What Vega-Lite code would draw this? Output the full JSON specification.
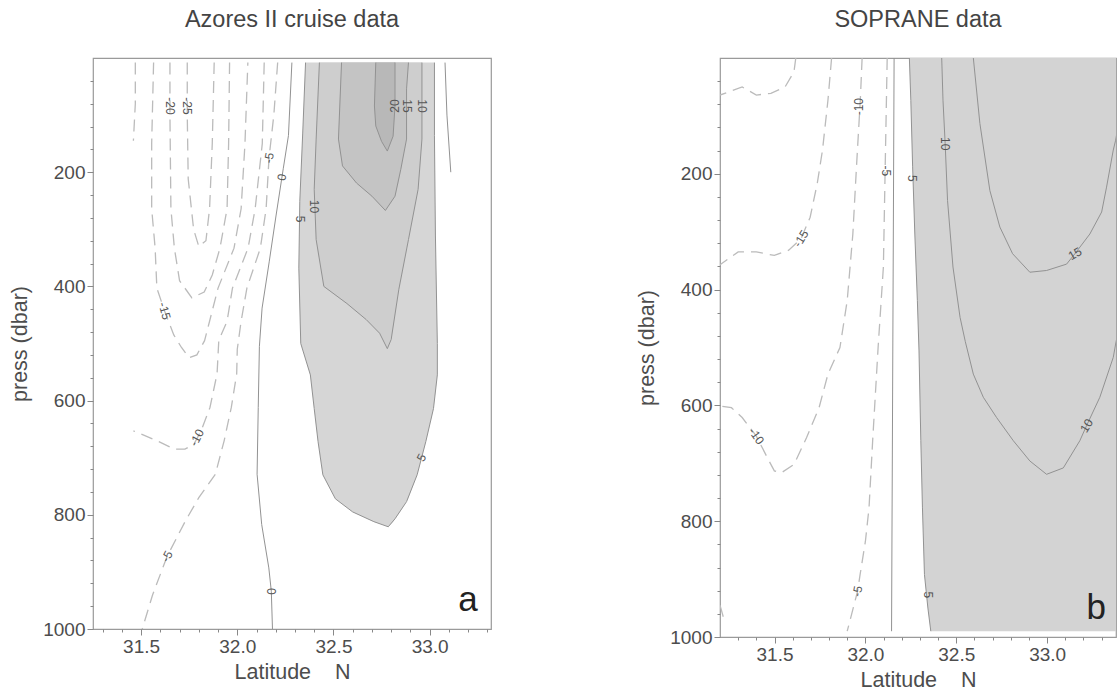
{
  "$schema": "https://vega.github.io/schema/vega-lite/v6.json",
  "background": "white",
  "padding": {"left": 9, "top": 6, "right": 0, "bottom": 0},
  "spacing": 144,
  "config": {
    "font": "Liberation Sans",
    "view": {"stroke": "#9a9a9a", "strokeWidth": 1.2},
    "axis": {"grid": false, "domain": false, "tickColor": "#888888", "labelColor": "#4d4d4d", "labelFontSize": 19, "titleFontSize": 21.5, "titleFontWeight": "normal", "titleColor": "#4d4d4d", "labelPadding": 2, "labelOverlap": false, "labelFlush": false},
    "axisY": {"titlePadding": 11},
    "axisX": {"titlePadding": 5},
    "title": {"fontSize": 23.5, "fontWeight": "normal", "color": "#444444", "offset": 27}
  },
  "datasets": {
    "lines": [
      {"p":"A","lev":0,"seg":"A0","i":0,"lat":32.284,"press":8},
      {"p":"A","lev":0,"seg":"A0","i":1,"lat":32.266,"press":136},
      {"p":"A","lev":0,"seg":"A0","i":2,"lat":32.239,"press":194},
      {"p":"A","lev":0,"seg":"A0","i":3,"lat":32.202,"press":275},
      {"p":"A","lev":0,"seg":"A0","i":4,"lat":32.166,"press":357},
      {"p":"A","lev":0,"seg":"A0","i":5,"lat":32.129,"press":438},
      {"p":"A","lev":0,"seg":"A0","i":6,"lat":32.115,"press":505},
      {"p":"A","lev":0,"seg":"A0","i":7,"lat":32.109,"press":612},
      {"p":"A","lev":0,"seg":"A0","i":8,"lat":32.103,"press":729},
      {"p":"A","lev":0,"seg":"A0","i":9,"lat":32.127,"press":817},
      {"p":"A","lev":0,"seg":"A0","i":10,"lat":32.164,"press":893},
      {"p":"A","lev":0,"seg":"A0","i":11,"lat":32.177,"press":934},
      {"p":"A","lev":0,"seg":"A0","i":12,"lat":32.183,"press":1000},
      {"p":"A","lev":0,"seg":"A0r","i":0,"lat":33.08,"press":8},
      {"p":"A","lev":0,"seg":"A0r","i":1,"lat":33.09,"press":100},
      {"p":"A","lev":0,"seg":"A0r","i":2,"lat":33.11,"press":200},
      {"p":"A","lev":5,"seg":"A5","i":0,"lat":32.355,"press":8},
      {"p":"A","lev":5,"seg":"A5","i":1,"lat":32.34,"press":133},
      {"p":"A","lev":5,"seg":"A5","i":2,"lat":32.325,"press":251},
      {"p":"A","lev":5,"seg":"A5","i":3,"lat":32.32,"press":368},
      {"p":"A","lev":5,"seg":"A5","i":4,"lat":32.33,"press":500},
      {"p":"A","lev":5,"seg":"A5","i":5,"lat":32.38,"press":555},
      {"p":"A","lev":5,"seg":"A5","i":6,"lat":32.40,"press":614},
      {"p":"A","lev":5,"seg":"A5","i":7,"lat":32.42,"press":672},
      {"p":"A","lev":5,"seg":"A5","i":8,"lat":32.445,"press":730},
      {"p":"A","lev":5,"seg":"A5","i":9,"lat":32.51,"press":772},
      {"p":"A","lev":5,"seg":"A5","i":10,"lat":32.60,"press":795},
      {"p":"A","lev":5,"seg":"A5","i":11,"lat":32.71,"press":812},
      {"p":"A","lev":5,"seg":"A5","i":12,"lat":32.785,"press":821},
      {"p":"A","lev":5,"seg":"A5","i":13,"lat":32.82,"press":807},
      {"p":"A","lev":5,"seg":"A5","i":14,"lat":32.88,"press":777},
      {"p":"A","lev":5,"seg":"A5","i":15,"lat":32.935,"press":730},
      {"p":"A","lev":5,"seg":"A5","i":16,"lat":32.98,"press":672},
      {"p":"A","lev":5,"seg":"A5","i":17,"lat":33.02,"press":614},
      {"p":"A","lev":5,"seg":"A5","i":18,"lat":33.04,"press":555},
      {"p":"A","lev":5,"seg":"A5","i":19,"lat":33.04,"press":500},
      {"p":"A","lev":5,"seg":"A5","i":20,"lat":33.03,"press":310},
      {"p":"A","lev":5,"seg":"A5","i":21,"lat":33.025,"press":136},
      {"p":"A","lev":5,"seg":"A5","i":22,"lat":33.025,"press":8},
      {"p":"A","lev":10,"seg":"A10","i":0,"lat":32.427,"press":8},
      {"p":"A","lev":10,"seg":"A10","i":1,"lat":32.41,"press":142},
      {"p":"A","lev":10,"seg":"A10","i":2,"lat":32.40,"press":230},
      {"p":"A","lev":10,"seg":"A10","i":3,"lat":32.41,"press":318},
      {"p":"A","lev":10,"seg":"A10","i":4,"lat":32.45,"press":400},
      {"p":"A","lev":10,"seg":"A10","i":5,"lat":32.57,"press":430},
      {"p":"A","lev":10,"seg":"A10","i":6,"lat":32.67,"press":458},
      {"p":"A","lev":10,"seg":"A10","i":7,"lat":32.74,"press":482},
      {"p":"A","lev":10,"seg":"A10","i":8,"lat":32.78,"press":509},
      {"p":"A","lev":10,"seg":"A10","i":9,"lat":32.80,"press":493},
      {"p":"A","lev":10,"seg":"A10","i":10,"lat":32.84,"press":405},
      {"p":"A","lev":10,"seg":"A10","i":11,"lat":32.89,"press":318},
      {"p":"A","lev":10,"seg":"A10","i":12,"lat":32.94,"press":230},
      {"p":"A","lev":10,"seg":"A10","i":13,"lat":32.96,"press":142},
      {"p":"A","lev":10,"seg":"A10","i":14,"lat":32.96,"press":8},
      {"p":"A","lev":15,"seg":"A15","i":0,"lat":32.542,"press":8},
      {"p":"A","lev":15,"seg":"A15","i":1,"lat":32.526,"press":142},
      {"p":"A","lev":15,"seg":"A15","i":2,"lat":32.547,"press":189},
      {"p":"A","lev":15,"seg":"A15","i":3,"lat":32.62,"press":219},
      {"p":"A","lev":15,"seg":"A15","i":4,"lat":32.70,"press":242},
      {"p":"A","lev":15,"seg":"A15","i":5,"lat":32.77,"press":267},
      {"p":"A","lev":15,"seg":"A15","i":6,"lat":32.82,"press":242},
      {"p":"A","lev":15,"seg":"A15","i":7,"lat":32.85,"press":195},
      {"p":"A","lev":15,"seg":"A15","i":8,"lat":32.88,"press":142},
      {"p":"A","lev":15,"seg":"A15","i":9,"lat":32.88,"press":54},
      {"p":"A","lev":15,"seg":"A15","i":10,"lat":32.89,"press":8},
      {"p":"A","lev":20,"seg":"A20","i":0,"lat":32.72,"press":8},
      {"p":"A","lev":20,"seg":"A20","i":1,"lat":32.713,"press":84},
      {"p":"A","lev":20,"seg":"A20","i":2,"lat":32.72,"press":119},
      {"p":"A","lev":20,"seg":"A20","i":3,"lat":32.75,"press":146},
      {"p":"A","lev":20,"seg":"A20","i":4,"lat":32.78,"press":163},
      {"p":"A","lev":20,"seg":"A20","i":5,"lat":32.81,"press":137},
      {"p":"A","lev":20,"seg":"A20","i":6,"lat":32.82,"press":84},
      {"p":"A","lev":20,"seg":"A20","i":7,"lat":32.82,"press":8},
      {"p":"A","lev":-5,"seg":"Am5","i":0,"lat":32.21,"press":8},
      {"p":"A","lev":-5,"seg":"Am5","i":1,"lat":32.19,"press":100},
      {"p":"A","lev":-5,"seg":"Am5","i":2,"lat":32.165,"press":175},
      {"p":"A","lev":-5,"seg":"Am5","i":3,"lat":32.15,"press":264},
      {"p":"A","lev":-5,"seg":"Am5","i":4,"lat":32.12,"press":333},
      {"p":"A","lev":-5,"seg":"Am5","i":5,"lat":32.05,"press":403},
      {"p":"A","lev":-5,"seg":"Am5","i":6,"lat":32.02,"press":461},
      {"p":"A","lev":-5,"seg":"Am5","i":7,"lat":32.0,"press":510},
      {"p":"A","lev":-5,"seg":"Am5","i":8,"lat":31.997,"press":553},
      {"p":"A","lev":-5,"seg":"Am5","i":9,"lat":31.969,"press":612},
      {"p":"A","lev":-5,"seg":"Am5","i":10,"lat":31.932,"press":670},
      {"p":"A","lev":-5,"seg":"Am5","i":11,"lat":31.886,"press":729},
      {"p":"A","lev":-5,"seg":"Am5","i":12,"lat":31.80,"press":770},
      {"p":"A","lev":-5,"seg":"Am5","i":13,"lat":31.73,"press":811},
      {"p":"A","lev":-5,"seg":"Am5","i":14,"lat":31.635,"press":873},
      {"p":"A","lev":-5,"seg":"Am5","i":15,"lat":31.56,"press":940},
      {"p":"A","lev":-5,"seg":"Am5","i":16,"lat":31.506,"press":1000},
      {"p":"A","lev":-10,"seg":"Am10","i":0,"lat":32.14,"press":8},
      {"p":"A","lev":-10,"seg":"Am10","i":1,"lat":32.13,"press":150},
      {"p":"A","lev":-10,"seg":"Am10","i":2,"lat":32.093,"press":264},
      {"p":"A","lev":-10,"seg":"Am10","i":3,"lat":32.056,"press":333},
      {"p":"A","lev":-10,"seg":"Am10","i":4,"lat":31.975,"press":403},
      {"p":"A","lev":-10,"seg":"Am10","i":5,"lat":31.947,"press":461},
      {"p":"A","lev":-10,"seg":"Am10","i":6,"lat":31.904,"press":494},
      {"p":"A","lev":-10,"seg":"Am10","i":7,"lat":31.895,"press":553},
      {"p":"A","lev":-10,"seg":"Am10","i":8,"lat":31.858,"press":612},
      {"p":"A","lev":-10,"seg":"Am10","i":9,"lat":31.812,"press":653},
      {"p":"A","lev":-10,"seg":"Am10","i":10,"lat":31.775,"press":676},
      {"p":"A","lev":-10,"seg":"Am10","i":11,"lat":31.728,"press":685},
      {"p":"A","lev":-10,"seg":"Am10","i":12,"lat":31.673,"press":685},
      {"p":"A","lev":-10,"seg":"Am10","i":13,"lat":31.58,"press":670},
      {"p":"A","lev":-10,"seg":"Am10","i":14,"lat":31.46,"press":653},
      {"p":"A","lev":-10,"seg":"Am10b","i":0,"lat":31.47,"press":8},
      {"p":"A","lev":-10,"seg":"Am10b","i":1,"lat":31.47,"press":80},
      {"p":"A","lev":-10,"seg":"Am10b","i":2,"lat":31.46,"press":145},
      {"p":"A","lev":-15,"seg":"Am15","i":0,"lat":31.565,"press":8},
      {"p":"A","lev":-15,"seg":"Am15","i":1,"lat":31.555,"press":150},
      {"p":"A","lev":-15,"seg":"Am15","i":2,"lat":31.555,"press":264},
      {"p":"A","lev":-15,"seg":"Am15","i":3,"lat":31.573,"press":333},
      {"p":"A","lev":-15,"seg":"Am15","i":4,"lat":31.582,"press":403},
      {"p":"A","lev":-15,"seg":"Am15","i":5,"lat":31.622,"press":443},
      {"p":"A","lev":-15,"seg":"Am15","i":6,"lat":31.67,"press":485},
      {"p":"A","lev":-15,"seg":"Am15","i":7,"lat":31.71,"press":507},
      {"p":"A","lev":-15,"seg":"Am15","i":8,"lat":31.75,"press":525},
      {"p":"A","lev":-15,"seg":"Am15","i":9,"lat":31.79,"press":520},
      {"p":"A","lev":-15,"seg":"Am15","i":10,"lat":31.83,"press":495},
      {"p":"A","lev":-15,"seg":"Am15","i":11,"lat":31.856,"press":461},
      {"p":"A","lev":-15,"seg":"Am15","i":12,"lat":31.90,"press":403},
      {"p":"A","lev":-15,"seg":"Am15","i":13,"lat":31.983,"press":333},
      {"p":"A","lev":-15,"seg":"Am15","i":14,"lat":32.02,"press":264},
      {"p":"A","lev":-15,"seg":"Am15","i":15,"lat":32.04,"press":150},
      {"p":"A","lev":-15,"seg":"Am15","i":16,"lat":32.055,"press":8},
      {"p":"A","lev":-20,"seg":"Am20","i":0,"lat":31.65,"press":8},
      {"p":"A","lev":-20,"seg":"Am20","i":1,"lat":31.65,"press":100},
      {"p":"A","lev":-20,"seg":"Am20","i":2,"lat":31.655,"press":264},
      {"p":"A","lev":-20,"seg":"Am20","i":3,"lat":31.673,"press":333},
      {"p":"A","lev":-20,"seg":"Am20","i":4,"lat":31.70,"press":390},
      {"p":"A","lev":-20,"seg":"Am20","i":5,"lat":31.764,"press":420},
      {"p":"A","lev":-20,"seg":"Am20","i":6,"lat":31.828,"press":410},
      {"p":"A","lev":-20,"seg":"Am20","i":7,"lat":31.87,"press":380},
      {"p":"A","lev":-20,"seg":"Am20","i":8,"lat":31.91,"press":333},
      {"p":"A","lev":-20,"seg":"Am20","i":9,"lat":31.947,"press":264},
      {"p":"A","lev":-20,"seg":"Am20","i":10,"lat":31.955,"press":150},
      {"p":"A","lev":-20,"seg":"Am20","i":11,"lat":31.96,"press":8},
      {"p":"A","lev":-25,"seg":"Am25","i":0,"lat":31.74,"press":8},
      {"p":"A","lev":-25,"seg":"Am25","i":1,"lat":31.74,"press":100},
      {"p":"A","lev":-25,"seg":"Am25","i":2,"lat":31.745,"press":212},
      {"p":"A","lev":-25,"seg":"Am25","i":3,"lat":31.773,"press":300},
      {"p":"A","lev":-25,"seg":"Am25","i":4,"lat":31.80,"press":330},
      {"p":"A","lev":-25,"seg":"Am25","i":5,"lat":31.837,"press":320},
      {"p":"A","lev":-25,"seg":"Am25","i":6,"lat":31.856,"press":264},
      {"p":"A","lev":-25,"seg":"Am25","i":7,"lat":31.87,"press":150},
      {"p":"A","lev":-25,"seg":"Am25","i":8,"lat":31.88,"press":8},
      {"p":"S","lev":0,"seg":"S0","i":0,"lat":32.158,"press":0},
      {"p":"S","lev":0,"seg":"S0","i":1,"lat":32.144,"press":990},
      {"p":"S","lev":5,"seg":"S5","i":0,"lat":32.242,"press":0},
      {"p":"S","lev":5,"seg":"S5","i":1,"lat":32.25,"press":73},
      {"p":"S","lev":5,"seg":"S5","i":2,"lat":32.26,"press":188},
      {"p":"S","lev":5,"seg":"S5","i":3,"lat":32.272,"press":304},
      {"p":"S","lev":5,"seg":"S5","i":4,"lat":32.286,"press":419},
      {"p":"S","lev":5,"seg":"S5","i":5,"lat":32.295,"press":506},
      {"p":"S","lev":5,"seg":"S5","i":6,"lat":32.305,"press":661},
      {"p":"S","lev":5,"seg":"S5","i":7,"lat":32.314,"press":777},
      {"p":"S","lev":5,"seg":"S5","i":8,"lat":32.325,"press":892},
      {"p":"S","lev":5,"seg":"S5","i":9,"lat":32.344,"press":950},
      {"p":"S","lev":5,"seg":"S5","i":10,"lat":32.36,"press":990},
      {"p":"S","lev":10,"seg":"S10","i":0,"lat":32.42,"press":0},
      {"p":"S","lev":10,"seg":"S10","i":1,"lat":32.427,"press":73},
      {"p":"S","lev":10,"seg":"S10","i":2,"lat":32.439,"press":148},
      {"p":"S","lev":10,"seg":"S10","i":3,"lat":32.452,"press":246},
      {"p":"S","lev":10,"seg":"S10","i":4,"lat":32.482,"press":361},
      {"p":"S","lev":10,"seg":"S10","i":5,"lat":32.521,"press":448},
      {"p":"S","lev":10,"seg":"S10","i":6,"lat":32.55,"press":490},
      {"p":"S","lev":10,"seg":"S10","i":7,"lat":32.594,"press":546},
      {"p":"S","lev":10,"seg":"S10","i":8,"lat":32.649,"press":586},
      {"p":"S","lev":10,"seg":"S10","i":9,"lat":32.722,"press":621},
      {"p":"S","lev":10,"seg":"S10","i":10,"lat":32.814,"press":661},
      {"p":"S","lev":10,"seg":"S10","i":11,"lat":32.905,"press":696},
      {"p":"S","lev":10,"seg":"S10","i":12,"lat":32.997,"press":719},
      {"p":"S","lev":10,"seg":"S10","i":13,"lat":33.089,"press":708},
      {"p":"S","lev":10,"seg":"S10","i":14,"lat":33.18,"press":661},
      {"p":"S","lev":10,"seg":"S10","i":15,"lat":33.217,"press":635},
      {"p":"S","lev":10,"seg":"S10","i":16,"lat":33.29,"press":586},
      {"p":"S","lev":10,"seg":"S10","i":17,"lat":33.364,"press":517},
      {"p":"S","lev":10,"seg":"S10","i":18,"lat":33.377,"press":494},
      {"p":"S","lev":10,"seg":"S10","i":19,"lat":33.41,"press":440},
      {"p":"S","lev":15,"seg":"S15","i":0,"lat":32.594,"press":0},
      {"p":"S","lev":15,"seg":"S15","i":1,"lat":32.63,"press":113},
      {"p":"S","lev":15,"seg":"S15","i":2,"lat":32.685,"press":229},
      {"p":"S","lev":15,"seg":"S15","i":3,"lat":32.74,"press":292},
      {"p":"S","lev":15,"seg":"S15","i":4,"lat":32.81,"press":338},
      {"p":"S","lev":15,"seg":"S15","i":5,"lat":32.905,"press":370},
      {"p":"S","lev":15,"seg":"S15","i":6,"lat":32.997,"press":367},
      {"p":"S","lev":15,"seg":"S15","i":7,"lat":33.107,"press":356},
      {"p":"S","lev":15,"seg":"S15","i":8,"lat":33.153,"press":338},
      {"p":"S","lev":15,"seg":"S15","i":9,"lat":33.235,"press":304},
      {"p":"S","lev":15,"seg":"S15","i":10,"lat":33.30,"press":266},
      {"p":"S","lev":15,"seg":"S15","i":11,"lat":33.327,"press":223},
      {"p":"S","lev":15,"seg":"S15","i":12,"lat":33.364,"press":159},
      {"p":"S","lev":15,"seg":"S15","i":13,"lat":33.377,"press":142},
      {"p":"S","lev":15,"seg":"S15","i":14,"lat":33.40,"press":100},
      {"p":"S","lev":-5,"seg":"Sm5","i":0,"lat":32.12,"press":0},
      {"p":"S","lev":-5,"seg":"Sm5","i":1,"lat":32.109,"press":188},
      {"p":"S","lev":-5,"seg":"Sm5","i":2,"lat":32.099,"press":361},
      {"p":"S","lev":-5,"seg":"Sm5","i":3,"lat":32.07,"press":500},
      {"p":"S","lev":-5,"seg":"Sm5","i":4,"lat":32.04,"press":661},
      {"p":"S","lev":-5,"seg":"Sm5","i":5,"lat":32.02,"press":777},
      {"p":"S","lev":-5,"seg":"Sm5","i":6,"lat":32.0,"press":835},
      {"p":"S","lev":-5,"seg":"Sm5","i":7,"lat":31.971,"press":892},
      {"p":"S","lev":-5,"seg":"Sm5","i":8,"lat":31.957,"press":921},
      {"p":"S","lev":-5,"seg":"Sm5","i":9,"lat":31.90,"press":990},
      {"p":"S","lev":-10,"seg":"Sm10","i":0,"lat":31.982,"press":0},
      {"p":"S","lev":-10,"seg":"Sm10","i":1,"lat":31.972,"press":73},
      {"p":"S","lev":-10,"seg":"Sm10","i":2,"lat":31.951,"press":188},
      {"p":"S","lev":-10,"seg":"Sm10","i":3,"lat":31.931,"press":304},
      {"p":"S","lev":-10,"seg":"Sm10","i":4,"lat":31.90,"press":419},
      {"p":"S","lev":-10,"seg":"Sm10","i":5,"lat":31.86,"press":500},
      {"p":"S","lev":-10,"seg":"Sm10","i":6,"lat":31.794,"press":546},
      {"p":"S","lev":-10,"seg":"Sm10","i":7,"lat":31.745,"press":604},
      {"p":"S","lev":-10,"seg":"Sm10","i":8,"lat":31.676,"press":656},
      {"p":"S","lev":-10,"seg":"Sm10","i":9,"lat":31.607,"press":702},
      {"p":"S","lev":-10,"seg":"Sm10","i":10,"lat":31.539,"press":716},
      {"p":"S","lev":-10,"seg":"Sm10","i":11,"lat":31.499,"press":713},
      {"p":"S","lev":-10,"seg":"Sm10","i":12,"lat":31.46,"press":690},
      {"p":"S","lev":-10,"seg":"Sm10","i":13,"lat":31.40,"press":653},
      {"p":"S","lev":-10,"seg":"Sm10","i":14,"lat":31.322,"press":621},
      {"p":"S","lev":-10,"seg":"Sm10","i":15,"lat":31.263,"press":604},
      {"p":"S","lev":-10,"seg":"Sm10","i":16,"lat":31.2,"press":601},
      {"p":"S","lev":-15,"seg":"Sm15","i":0,"lat":31.814,"press":0},
      {"p":"S","lev":-15,"seg":"Sm15","i":1,"lat":31.794,"press":73},
      {"p":"S","lev":-15,"seg":"Sm15","i":2,"lat":31.764,"press":159},
      {"p":"S","lev":-15,"seg":"Sm15","i":3,"lat":31.735,"press":217},
      {"p":"S","lev":-15,"seg":"Sm15","i":4,"lat":31.696,"press":275},
      {"p":"S","lev":-15,"seg":"Sm15","i":5,"lat":31.646,"press":312},
      {"p":"S","lev":-15,"seg":"Sm15","i":6,"lat":31.578,"press":332},
      {"p":"S","lev":-15,"seg":"Sm15","i":7,"lat":31.499,"press":341},
      {"p":"S","lev":-15,"seg":"Sm15","i":8,"lat":31.40,"press":335},
      {"p":"S","lev":-15,"seg":"Sm15","i":9,"lat":31.30,"press":335},
      {"p":"S","lev":-15,"seg":"Sm15","i":10,"lat":31.2,"press":357},
      {"p":"S","lev":-15,"seg":"Sm15b","i":0,"lat":31.2,"press":945},
      {"p":"S","lev":-15,"seg":"Sm15b","i":1,"lat":31.225,"press":973},
      {"p":"S","lev":-20,"seg":"Sm20","i":0,"lat":31.617,"press":0},
      {"p":"S","lev":-20,"seg":"Sm20","i":1,"lat":31.607,"press":24},
      {"p":"S","lev":-20,"seg":"Sm20","i":2,"lat":31.558,"press":50},
      {"p":"S","lev":-20,"seg":"Sm20","i":3,"lat":31.48,"press":61},
      {"p":"S","lev":-20,"seg":"Sm20","i":4,"lat":31.40,"press":64},
      {"p":"S","lev":-20,"seg":"Sm20","i":5,"lat":31.322,"press":50},
      {"p":"S","lev":-20,"seg":"Sm20","i":6,"lat":31.2,"press":64}
    ],
    "fills": [
      {"p":"A","lev":5,"press":8,"lat":32.355,"lat2":33.025},
      {"p":"A","lev":5,"press":133,"lat":32.34,"lat2":33.025},
      {"p":"A","lev":5,"press":251,"lat":32.325,"lat2":33.028},
      {"p":"A","lev":5,"press":368,"lat":32.32,"lat2":33.033},
      {"p":"A","lev":5,"press":500,"lat":32.33,"lat2":33.04},
      {"p":"A","lev":5,"press":555,"lat":32.38,"lat2":33.04},
      {"p":"A","lev":5,"press":614,"lat":32.40,"lat2":33.02},
      {"p":"A","lev":5,"press":672,"lat":32.42,"lat2":32.98},
      {"p":"A","lev":5,"press":730,"lat":32.445,"lat2":32.935},
      {"p":"A","lev":5,"press":772,"lat":32.51,"lat2":32.888},
      {"p":"A","lev":5,"press":795,"lat":32.60,"lat2":32.845},
      {"p":"A","lev":5,"press":812,"lat":32.71,"lat2":32.81},
      {"p":"A","lev":5,"press":821,"lat":32.785,"lat2":32.785},
      {"p":"A","lev":10,"press":8,"lat":32.427,"lat2":32.96},
      {"p":"A","lev":10,"press":142,"lat":32.41,"lat2":32.96},
      {"p":"A","lev":10,"press":230,"lat":32.40,"lat2":32.94},
      {"p":"A","lev":10,"press":318,"lat":32.41,"lat2":32.89},
      {"p":"A","lev":10,"press":400,"lat":32.45,"lat2":32.843},
      {"p":"A","lev":10,"press":430,"lat":32.57,"lat2":32.829},
      {"p":"A","lev":10,"press":458,"lat":32.67,"lat2":32.816},
      {"p":"A","lev":10,"press":482,"lat":32.74,"lat2":32.805},
      {"p":"A","lev":10,"press":509,"lat":32.78,"lat2":32.78},
      {"p":"A","lev":15,"press":8,"lat":32.542,"lat2":32.89},
      {"p":"A","lev":15,"press":54,"lat":32.535,"lat2":32.88},
      {"p":"A","lev":15,"press":142,"lat":32.526,"lat2":32.88},
      {"p":"A","lev":15,"press":189,"lat":32.547,"lat2":32.854},
      {"p":"A","lev":15,"press":219,"lat":32.62,"lat2":32.838},
      {"p":"A","lev":15,"press":242,"lat":32.70,"lat2":32.82},
      {"p":"A","lev":15,"press":267,"lat":32.77,"lat2":32.77},
      {"p":"A","lev":20,"press":8,"lat":32.72,"lat2":32.82},
      {"p":"A","lev":20,"press":84,"lat":32.713,"lat2":32.82},
      {"p":"A","lev":20,"press":119,"lat":32.72,"lat2":32.814},
      {"p":"A","lev":20,"press":137,"lat":32.74,"lat2":32.81},
      {"p":"A","lev":20,"press":146,"lat":32.75,"lat2":32.80},
      {"p":"A","lev":20,"press":163,"lat":32.78,"lat2":32.78},
      {"p":"S","lev":5,"press":0,"lat":32.242,"lat2":33.6},
      {"p":"S","lev":5,"press":73,"lat":32.25,"lat2":33.6},
      {"p":"S","lev":5,"press":188,"lat":32.26,"lat2":33.6},
      {"p":"S","lev":5,"press":304,"lat":32.272,"lat2":33.6},
      {"p":"S","lev":5,"press":419,"lat":32.286,"lat2":33.6},
      {"p":"S","lev":5,"press":506,"lat":32.295,"lat2":33.6},
      {"p":"S","lev":5,"press":661,"lat":32.305,"lat2":33.6},
      {"p":"S","lev":5,"press":777,"lat":32.314,"lat2":33.6},
      {"p":"S","lev":5,"press":892,"lat":32.325,"lat2":33.6},
      {"p":"S","lev":5,"press":950,"lat":32.344,"lat2":33.6},
      {"p":"S","lev":5,"press":990,"lat":32.36,"lat2":33.6}
    ],
    "labels": [
      {"id":"a1","p":"A","t":"-25","lat":31.74,"press":84},
      {"id":"a2","p":"A","t":"-20","lat":31.65,"press":84},
      {"id":"a3","p":"A","t":"-15","lat":31.622,"press":443},
      {"id":"a4","p":"A","t":"-5","lat":32.165,"press":175},
      {"id":"a5","p":"A","t":"0","lat":32.232,"press":209},
      {"id":"a6","p":"A","t":"5","lat":32.325,"press":282},
      {"id":"a7","p":"A","t":"10","lat":32.40,"press":260},
      {"id":"a8","p":"A","t":"20","lat":32.82,"press":84},
      {"id":"a9","p":"A","t":"15","lat":32.88,"press":84},
      {"id":"a10","p":"A","t":"10","lat":32.96,"press":84},
      {"id":"a11","p":"A","t":"-10","lat":31.79,"press":665},
      {"id":"a12","p":"A","t":"-5","lat":31.635,"press":873},
      {"id":"a13","p":"A","t":"0","lat":32.177,"press":934},
      {"id":"a14","p":"A","t":"5","lat":32.958,"press":700},
      {"id":"s1","p":"S","t":"-10","lat":31.966,"press":84},
      {"id":"s2","p":"S","t":"-5","lat":32.112,"press":195},
      {"id":"s3","p":"S","t":"5","lat":32.256,"press":208},
      {"id":"s4","p":"S","t":"10","lat":32.439,"press":148},
      {"id":"s5","p":"S","t":"-15","lat":31.646,"press":312},
      {"id":"s6","p":"S","t":"15","lat":33.153,"press":338},
      {"id":"s7","p":"S","t":"-10","lat":31.40,"press":653},
      {"id":"s8","p":"S","t":"10","lat":33.217,"press":635},
      {"id":"s9","p":"S","t":"-5","lat":31.957,"press":921},
      {"id":"s10","p":"S","t":"5","lat":32.344,"press":927}
    ],
    "letters": [
      {"p":"A","t":"a","lat":33.2,"press":950},
      {"p":"S","t":"b","lat":33.27,"press":950}
    ]
  },
  "hconcat": [
    {
      "title": {"text": "Azores II cruise data"},
      "width": 398,
      "height": 571,
      "encoding": {
        "x": {"field": "lat", "type": "quantitative", "scale": {"domain": [31.25, 33.319], "nice": false, "zero": false},
          "axis": {"title": "Latitude\u00a0\u00a0\u00a0\u00a0N", "values": [31.3,31.4,31.5,31.6,31.7,31.8,31.9,32.0,32.1,32.2,32.3,32.4,32.5,32.6,32.7,32.8,32.9,33.0,33.1,33.2,33.3],
            "labelExpr": "abs(datum.value*2-round(datum.value*2))<0.001 ? format(datum.value,'.1f') : ''",
            "tickSize": {"condition": {"test": "abs(datum.value*2-round(datum.value*2))<0.001", "value": 6}, "value": 3}}},
        "y": {"field": "press", "type": "quantitative", "scale": {"domain": [0, 1000], "reverse": true, "nice": false, "zero": false},
          "axis": {"title": "press (dbar)", "values": [40,80,120,160,200,240,280,320,360,400,440,480,520,560,600,640,680,720,760,800,840,880,920,960,1000],
            "labelExpr": "datum.value % 200 === 0 ? datum.value : ''",
            "tickSize": {"condition": {"test": "datum.value % 200 === 0", "value": 6}, "value": 3}}}
      },
      "layer": [
        {"data": {"name": "fills"}, "transform": [{"filter": "datum.p === 'A' && datum.lev === 5"}],
         "mark": {"type": "area", "orient": "horizontal", "color": "#d6d6d6", "clip": true},
         "encoding": {"x2": {"field": "lat2"}}},
        {"data": {"name": "fills"}, "transform": [{"filter": "datum.p === 'A' && datum.lev === 10"}],
         "mark": {"type": "area", "orient": "horizontal", "color": "#cecece", "clip": true},
         "encoding": {"x2": {"field": "lat2"}}},
        {"data": {"name": "fills"}, "transform": [{"filter": "datum.p === 'A' && datum.lev === 15"}],
         "mark": {"type": "area", "orient": "horizontal", "color": "#c4c4c4", "clip": true},
         "encoding": {"x2": {"field": "lat2"}}},
        {"data": {"name": "fills"}, "transform": [{"filter": "datum.p === 'A' && datum.lev === 20"}],
         "mark": {"type": "area", "orient": "horizontal", "color": "#b8b8b8", "clip": true},
         "encoding": {"x2": {"field": "lat2"}}},
        {"data": {"name": "lines"}, "transform": [{"filter": "datum.p === 'A' && datum.lev < 0"}],
         "mark": {"type": "line", "color": "#bbbbbb", "strokeWidth": 1.3, "strokeDash": [12, 7], "clip": true},
         "encoding": {"detail": {"field": "seg"}, "order": {"field": "i", "type": "quantitative"}}},
        {"data": {"name": "lines"}, "transform": [{"filter": "datum.p === 'A' && datum.lev >= 0"}],
         "mark": {"type": "line", "color": "#929292", "strokeWidth": 1, "clip": true},
         "encoding": {"detail": {"field": "seg"}, "order": {"field": "i", "type": "quantitative"}}},
        {"data": {"name": "labels"}, "transform": [{"filter": "datum.p === 'A' && indexof(['a1','a2','a6','a7','a9','a10','a13'], datum.id) >= 0"}],
         "mark": {"type": "text", "fontSize": 12, "color": "#555555", "angle": 90},
         "encoding": {"text": {"field": "t"}}},
        {"data": {"name": "labels"}, "transform": [{"filter": "datum.p === 'A' && indexof(['a8'], datum.id) >= 0"}],
         "mark": {"type": "text", "fontSize": 12, "color": "#555555", "angle": 270},
         "encoding": {"text": {"field": "t"}}},
        {"data": {"name": "labels"}, "transform": [{"filter": "datum.p === 'A' && indexof(['a3'], datum.id) >= 0"}],
         "mark": {"type": "text", "fontSize": 12, "color": "#555555", "angle": 75},
         "encoding": {"text": {"field": "t"}}},
        {"data": {"name": "labels"}, "transform": [{"filter": "datum.p === 'A' && indexof(['a4','a5'], datum.id) >= 0"}],
         "mark": {"type": "text", "fontSize": 12, "color": "#555555", "angle": 280},
         "encoding": {"text": {"field": "t"}}},
        {"data": {"name": "labels"}, "transform": [{"filter": "datum.p === 'A' && indexof(['a11','a12','a14'], datum.id) >= 0"}],
         "mark": {"type": "text", "fontSize": 12, "color": "#555555", "angle": 298},
         "encoding": {"text": {"field": "t"}}},
        {"data": {"name": "letters"}, "transform": [{"filter": "datum.p === 'A'"}],
         "mark": {"type": "text", "fontSize": 35, "color": "#222222"},
         "encoding": {"text": {"field": "t"}}}
      ]
    },
    {
      "title": {"text": "SOPRANE data"},
      "width": 396,
      "height": 579,
      "encoding": {
        "x": {"field": "lat", "type": "quantitative", "scale": {"domain": [31.2, 33.379], "nice": false, "zero": false},
          "axis": {"title": "Latitude\u00a0\u00a0\u00a0\u00a0N", "values": [31.3,31.4,31.5,31.6,31.7,31.8,31.9,32.0,32.1,32.2,32.3,32.4,32.5,32.6,32.7,32.8,32.9,33.0,33.1,33.2,33.3],
            "labelExpr": "abs(datum.value*2-round(datum.value*2))<0.001 ? format(datum.value,'.1f') : ''",
            "tickSize": {"condition": {"test": "abs(datum.value*2-round(datum.value*2))<0.001", "value": 6}, "value": 3}}},
        "y": {"field": "press", "type": "quantitative", "scale": {"domain": [0, 1000], "reverse": true, "nice": false, "zero": false},
          "axis": {"title": "press (dbar)", "values": [40,80,120,160,200,240,280,320,360,400,440,480,520,560,600,640,680,720,760,800,840,880,920,960,1000],
            "labelExpr": "datum.value % 200 === 0 ? datum.value : ''",
            "tickSize": {"condition": {"test": "datum.value % 200 === 0", "value": 6}, "value": 3}}}
      },
      "layer": [
        {"data": {"name": "fills"}, "transform": [{"filter": "datum.p === 'S'"}],
         "mark": {"type": "area", "orient": "horizontal", "color": "#d3d3d3", "clip": true},
         "encoding": {"x2": {"field": "lat2"}}},
        {"data": {"name": "lines"}, "transform": [{"filter": "datum.p === 'S' && datum.lev < 0"}],
         "mark": {"type": "line", "color": "#bbbbbb", "strokeWidth": 1.3, "strokeDash": [12, 7], "clip": true},
         "encoding": {"detail": {"field": "seg"}, "order": {"field": "i", "type": "quantitative"}}},
        {"data": {"name": "lines"}, "transform": [{"filter": "datum.p === 'S' && datum.lev >= 0"}],
         "mark": {"type": "line", "color": "#929292", "strokeWidth": 1, "clip": true},
         "encoding": {"detail": {"field": "seg"}, "order": {"field": "i", "type": "quantitative"}}},
        {"data": {"name": "labels"}, "transform": [{"filter": "datum.p === 'S' && indexof(['s2','s3','s4','s10'], datum.id) >= 0"}],
         "mark": {"type": "text", "fontSize": 12, "color": "#555555", "angle": 90},
         "encoding": {"text": {"field": "t"}}},
        {"data": {"name": "labels"}, "transform": [{"filter": "datum.p === 'S' && indexof(['s1'], datum.id) >= 0"}],
         "mark": {"type": "text", "fontSize": 12, "color": "#555555", "angle": 270},
         "encoding": {"text": {"field": "t"}}},
        {"data": {"name": "labels"}, "transform": [{"filter": "datum.p === 'S' && indexof(['s9'], datum.id) >= 0"}],
         "mark": {"type": "text", "fontSize": 12, "color": "#555555", "angle": 280},
         "encoding": {"text": {"field": "t"}}},
        {"data": {"name": "labels"}, "transform": [{"filter": "datum.p === 'S' && indexof(['s5','s8'], datum.id) >= 0"}],
         "mark": {"type": "text", "fontSize": 12, "color": "#555555", "angle": 302},
         "encoding": {"text": {"field": "t"}}},
        {"data": {"name": "labels"}, "transform": [{"filter": "datum.p === 'S' && indexof(['s6'], datum.id) >= 0"}],
         "mark": {"type": "text", "fontSize": 12, "color": "#555555", "angle": 330},
         "encoding": {"text": {"field": "t"}}},
        {"data": {"name": "labels"}, "transform": [{"filter": "datum.p === 'S' && indexof(['s7'], datum.id) >= 0"}],
         "mark": {"type": "text", "fontSize": 12, "color": "#555555", "angle": 55},
         "encoding": {"text": {"field": "t"}}},
        {"data": {"name": "letters"}, "transform": [{"filter": "datum.p === 'S'"}],
         "mark": {"type": "text", "fontSize": 35, "color": "#222222"},
         "encoding": {"text": {"field": "t"}}}
      ]
    }
  ]
}
